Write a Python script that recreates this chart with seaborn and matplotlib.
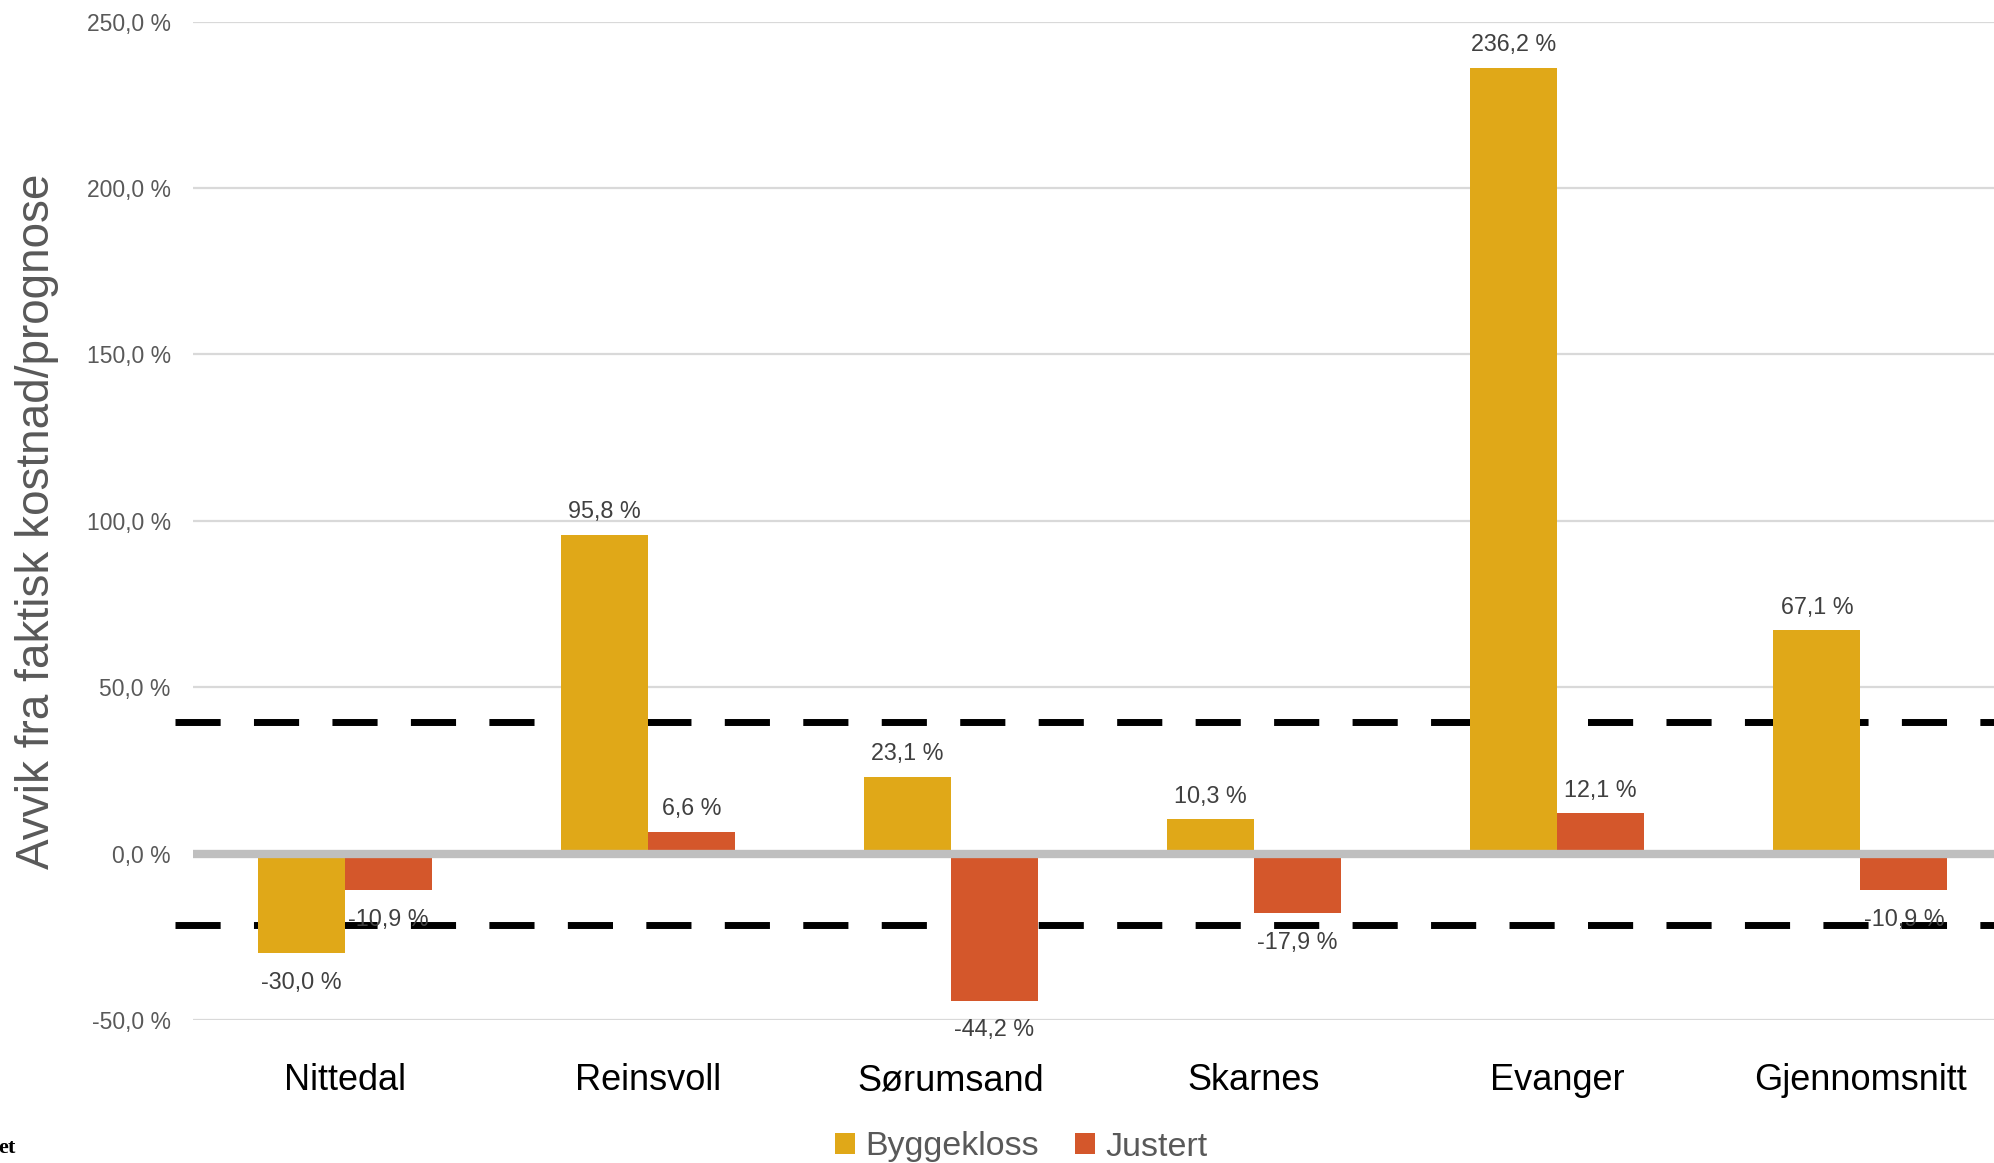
import matplotlib
matplotlib.use("Agg")
import matplotlib.pyplot as plt
from matplotlib.patches import Patch
from matplotlib.ticker import FuncFormatter, MultipleLocator
import seaborn as sns
import pandas as pd

# ---- data ----
categories = ["Nittedal", "Reinsvoll", "Sørumsand", "Skarnes", "Evanger", "Gjennomsnitt"]
series_names = ["Byggekloss", "Justert"]
byggekloss = [-30.0, 95.8, 23.1, 10.3, 236.2, 67.1]
justert = [-10.9, 6.6, -44.2, -17.9, 12.1, -10.9]
upper_limit = 39.6
lower_limit = -21.6
y_label = "Avvik fra faktisk kostnad/prognose"
colors = ["#E0A818", "#D4572B"]

df = pd.DataFrame({
    "kategori": categories * 2,
    "serie": [series_names[0]] * len(categories) + [series_names[1]] * len(categories),
    "verdi": byggekloss + justert,
})

sns.set_theme(style="white")
plt.rcParams["font.family"] = ["Liberation Sans", "DejaVu Sans"]

W, H = 1994, 1163
fig = plt.figure(figsize=(W / 100, H / 100), dpi=100)
left, right, top, bottom = 193, 2012, 21.7, 1020
ax = fig.add_axes([left / W, 1 - bottom / H, (right - left) / W, (bottom - top) / H])

sns.barplot(data=df, x="kategori", y="verdi", hue="serie", palette=colors,
            width=0.574, saturation=1, linewidth=0, legend=False, ax=ax, zorder=3,
            errorbar=None)

ax.set_ylim(-50, 250)
ax.set_xlim(-0.5, len(categories) - 0.5)
ax.yaxis.set_major_locator(MultipleLocator(50))
ax.yaxis.set_major_formatter(FuncFormatter(lambda v, p: f"{v:.1f} %".replace(".", ",")))
ax.grid(axis="y", color="#D9D9D9", linewidth=1.6, zorder=0)
ax.grid(axis="x", visible=False)
for s in ax.spines.values():
    s.set_visible(False)
ax.tick_params(axis="y", length=0, pad=16, labelsize=16.5, labelcolor="#595959")
ax.tick_params(axis="x", length=0, pad=31, labelsize=26, labelcolor="black")
ax.set_xlabel("")
ax.set_ylabel("")

# y-axis title
fig.text(37 / W, 1 - 521 / H, y_label, rotation=90, ha="center", va="center",
         fontsize=33, color="#595959")

# zero line
ax.axhline(0, color="#BFBFBF", linewidth=6, zorder=4)
# dashed limits
for yv in (upper_limit, lower_limit):
    ax.axhline(yv, xmin=-0.01, xmax=1, color="black", linewidth=5,
               dashes=(6.5, 4.8), zorder=2, clip_on=False)

# data labels
for cont in ax.containers:
    for bar in cont:
        h = bar.get_height()
        y0 = bar.get_y()
        val = h if abs(y0) < 1e-9 else y0
        cx = bar.get_x() + bar.get_width() / 2
        off = 16.5 if val >= 0 else -21
        ax.annotate(f"{val:.1f} %".replace(".", ","), (cx, val), xytext=(0, off),
                    textcoords="offset points", ha="center", va="center",
                    fontsize=16.8, color="#404040", zorder=6)

# legend
handles = [Patch(facecolor=c, edgecolor="none") for c in colors]
fig.legend(handles, series_names, loc="center", bbox_to_anchor=(1021 / W, 1 - 1147 / H),
           ncol=2, frameon=False, fontsize=24.5, handlelength=0.6, handleheight=0.6,
           handletextpad=0.3, columnspacing=1.05, labelcolor="#595959")

# cut-off source text fragment at bottom left
fig.text(-2 / W, 1 - 1148 / H, "et", fontsize=16, fontweight="bold",
         family=["Liberation Serif", "DejaVu Serif"], color="black", ha="left", va="center")

fig.savefig("out.png", dpi=100)
